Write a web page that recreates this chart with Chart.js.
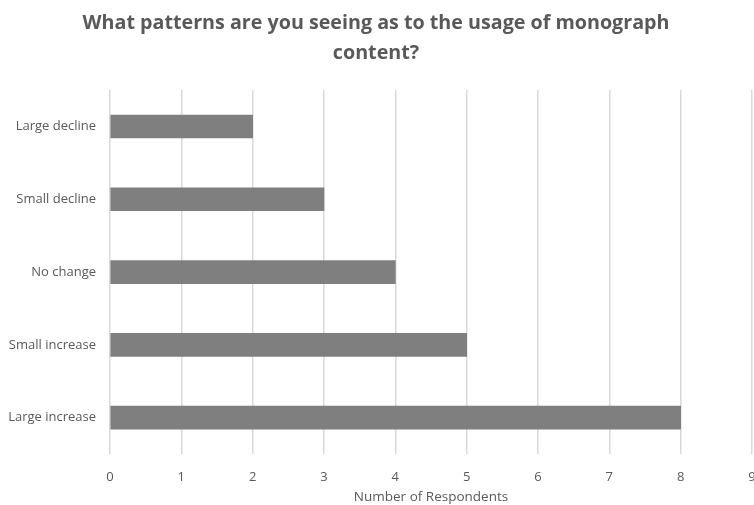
<!DOCTYPE html>
<html>
<head>
<meta charset="utf-8">
<script src="https://cdn.jsdelivr.net/npm/chart.js@4"></script>
<style>
  html, body { margin: 0; padding: 0; background: #fff; }
  #wrap { width: 754px; height: 505px; overflow: hidden; position: relative; }
  canvas { display: block; }
</style>
</head>
<body>
<div id="wrap"><canvas id="chart" width="775" height="505"></canvas></div>
<script>
// data
const categories = ['Large decline', 'Small decline', 'No change', 'Small increase', 'Large increase'];
const respondents = [2, 3, 4, 5, 8];
const titleLines = ['What patterns are you seeing as to the usage of monograph', 'content?'];
const xTitle = 'Number of Respondents';

const FONT = "'Open Sans', 'Liberation Sans', sans-serif";
const textGrey = '#595959';

const ctx = document.getElementById('chart').getContext('2d');
new Chart(ctx, {
  type: 'bar',
  data: {
    labels: categories,
    datasets: [{
      data: respondents,
      backgroundColor: '#7f7f7f',
      borderWidth: 0,
      barThickness: 23
    }]
  },
  options: {
    indexAxis: 'y',
    responsive: false,
    animation: false,
    layout: { padding: { left: 0, right: 23, top: 9, bottom: 0 } },
    plugins: {
      legend: { display: false },
      tooltip: { enabled: false },
      title: {
        display: true,
        text: titleLines,
        color: textGrey,
        font: { family: FONT, size: 19.7, weight: 'bold', lineHeight: 1.5 },
        padding: { top: 0, bottom: 22 }
      }
    },
    scales: {
      x: {
        min: 0,
        max: 9,
        ticks: { stepSize: 1, autoSkip: false, color: textGrey, font: { family: FONT, size: 13 }, padding: 15 },
        grid: { color: '#d9d9d9', lineWidth: 1.5, drawTicks: false },
        border: { display: false },
        title: { display: true, text: xTitle, color: textGrey, font: { family: FONT, size: 13.5 }, padding: { top: 0, bottom: 0 } },
        afterFit: (s) => { s.height = 51; }
      },
      y: {
        ticks: { color: textGrey, font: { family: FONT, size: 13 }, padding: 14 },
        grid: { display: false, drawTicks: false },
        border: { display: false },
        afterFit: (s) => { s.width = 110; }
      }
    }
  }
});
</script>
</body>
</html>
